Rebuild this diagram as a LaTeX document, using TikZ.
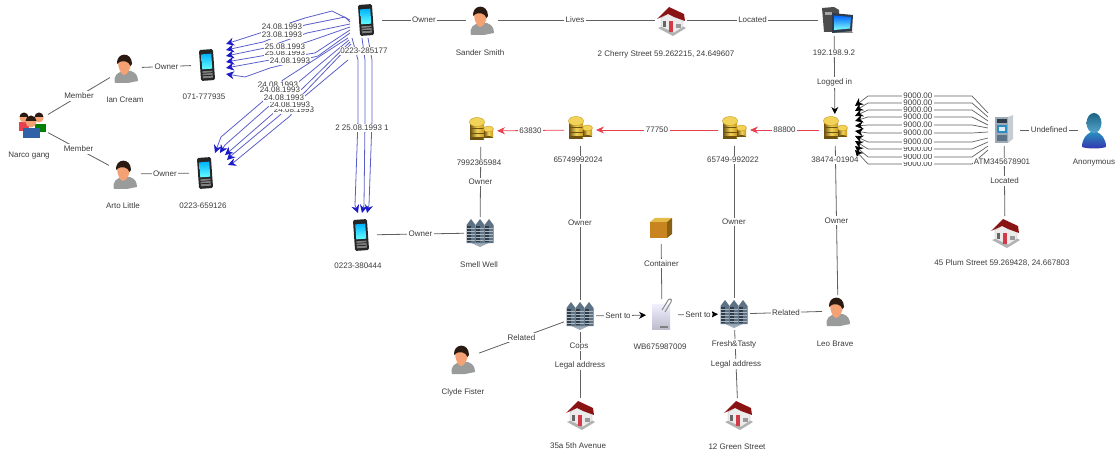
\documentclass[tikz,border=0pt]{standalone}
\usepackage{fontspec}
\setmainfont{Liberation Sans}
\usetikzlibrary{arrows.meta,calc,shapes.geometric}
\definecolor{linegray}{HTML}{606060}
\definecolor{txt}{HTML}{3C3C3C}
\definecolor{edgeblue}{HTML}{5A5FC8}
\definecolor{tipblue}{HTML}{1A1AC8}
\definecolor{edgered}{HTML}{E8404F}
\definecolor{gold}{HTML}{C99A1E}
\definecolor{golddark}{HTML}{6E5210}
\definecolor{goldlight}{HTML}{F2D35A}
\definecolor{slate}{HTML}{5D7285}
\definecolor{slatedark}{HTML}{2F3D4A}
\definecolor{roof}{HTML}{8A1414}
\definecolor{skin}{HTML}{F4A274}
\definecolor{hair}{HTML}{2A1A12}
\definecolor{shirt}{HTML}{9A9C9C}
\definecolor{crateorange}{HTML}{C8841E}
\definecolor{teal}{HTML}{2A8FC0}
\tikzset{
  iconbox/.style={inner sep=0pt,minimum width=#1,minimum height=#1,outer sep=0pt},
  iconbox/.default=32,
  lab/.style={font=\fontsize{8}{9}\selectfont,text=txt,fill=white,inner sep=0.8pt},
  edgelab/.style={font=\fontsize{8}{9}\selectfont,text=txt,fill=white,inner sep=1.6pt},
  graylink/.style={draw=linegray,line width=0.8pt},
  bluelink/.style={draw=edgeblue,line width=0.8pt,-{Stealth[length=8pt,width=8pt,color=tipblue]}},
  redlink/.style={draw=edgered,line width=0.8pt,-{Stealth[length=8pt,width=7pt]}},
  blacktip/.style={graylink,-{Stealth[length=7pt,width=7pt,color=black]}},
  atmlink/.style={draw=linegray,line width=0.7pt,-{Stealth[length=8pt,width=8pt,color=black]}},
  person/.pic={
    \fill[shirt] (-11,15) .. controls (-13,7) and (-8,4) .. (-2,3) -- (5,3) .. controls (10,5) and (12,8) .. (12,13) -- (2,15) -- cycle;
    \fill[skin] (-8,-6) .. controls (-8,-11) and (5,-11) .. (5,-5) .. controls (5,1) and (1,7) .. (-2,7) .. controls (-5,7) and (-8,0) .. (-8,-6) -- cycle;
    \fill[hair] (-9,-4) .. controls (-10,-16) and (6,-17) .. (6,-4) -- (4.5,-2) .. controls (3,-7) and (-4,-9) .. (-9,-4) -- cycle;
  },
  phone/.pic={
    \begin{scope}[rotate=4]
      \fill[black!85,rounded corners=1.5pt] (-7,-15.5) rectangle (7,15.5);
      \shade[top color=cyan!70!blue,bottom color=cyan!60!white] (-5,-11) rectangle (5,4);
      \fill[gray] (-5,6) rectangle (5,13);
      \foreach \yy in {8,10.5}{\draw[black,line width=0.5pt] (-5,\yy) -- (5,\yy);}
    \end{scope}
  },
  house/.pic={
    \fill[black!30] (-13,8) -- (2,16) -- (15,8) -- (3,2) -- cycle;
    \fill[white!92!black,draw=black!35,line width=0.4pt] (-10,-2) -- (-10,7) -- (3,13) -- (12,7) -- (12,-1) -- (1,-9) -- cycle;
    \fill[roof] (-14,-1) -- (-2,-13) -- (13,-6) -- (14,1) -- (3,-3) -- (-3,-6) -- cycle;
    \fill[edgered!90!black] (-2,1) rectangle (2,12);
    \fill[black!60] (-8,1) rectangle (-5,7);
    \fill[black!40] (5,4) rectangle (10,8);
  },
  coins/.pic={
    \shade[left color=golddark,right color=gold,middle color=goldlight] (-11,-8) rectangle (3,9);
    \fill[golddark] (-11,9) arc[start angle=180,end angle=360,x radius=7,y radius=3] -- cycle;
    \foreach \yy in {-3,2,6}{\draw[golddark,line width=0.5pt] (-11,\yy) -- (3,\yy);}
    \fill[goldlight,draw=gold,line width=0.4pt] (-4,-9) ellipse[x radius=7.5,y radius=4.5];
    \shade[left color=golddark,right color=gold,middle color=goldlight] (3,-2) rectangle (12,7);
    \fill[golddark] (3,7) arc[start angle=180,end angle=360,x radius=4.5,y radius=2] -- cycle;
    \fill[goldlight,draw=gold,line width=0.4pt] (7.5,-2) ellipse[x radius=5,y radius=3];
  },
  building/.pic={
    \fill[slate!60!white] (-13,-6) -- (0,-4) -- (13,-7) -- (13,8) -- (0,14) -- (-13,8) -- cycle;
    \foreach \xx in {-9,0,9}{
      \fill[slate] (\xx-4.5,-8) -- (\xx,-14) -- (\xx+4.5,-8) -- (\xx+4.5,10) -- (\xx-4.5,10) -- cycle;
      \fill[slatedark] (\xx-4,-7) rectangle (\xx-0.5,9);
      \foreach \yy in {-5,-2,1,4,7}{\draw[slate!50!white,line width=0.3pt] (\xx-4,\yy) -- (\xx+4,\yy);}
    }
  },
  computer/.pic={
    \fill[black!70] (-12,-12) -- (0,-13) -- (5,-10) -- (5,12) -- (-10,12) -- cycle;
    \fill[black!35] (-9,-8) rectangle (-2,-5);
    \fill[black!45] (-1,10) -- (17,10) -- (19,13) -- (0,13) -- cycle;
    \fill[slatedark] (-2,-7) -- (19,-5) -- (18,11) -- (-2,13) -- cycle;
    \shade[top color=blue!60!cyan,bottom color=cyan!50!white] (0,-4.5) -- (17,-3) -- (16,8.5) -- (0,10) -- cycle;
  },
  atm/.pic={
    \fill[slate!60!white] (-9,-13) -- (4,-13) -- (4,13) -- (-9,13) -- cycle;
    \fill[slate!35!white] (4,-13) -- (9,-15) -- (9,9) -- (4,13) -- cycle;
    \fill[slatedark] (-7,-11) rectangle (3,-7);
    \fill[teal] (-7,-5) rectangle (3,3);
    \fill[white!85!teal] (-5,-3) rectangle (1,1);
    \fill[slate] (-7,5) rectangle (3,11);
  },
  anon/.pic={
    \shade[top color=teal,bottom color=blue!60!black!80] (-12,17) .. controls (-12,8) and (-7,4) .. (-3,2) -- (3,2) .. controls (7,4) and (12,8) .. (12,17) .. controls (6,19) and (-6,19) .. (-12,17) -- cycle;
    \shade[top color=teal!70!black,bottom color=teal!80!white] (0,-7) ellipse[x radius=7.5,y radius=10];
  },
  paper/.pic={
    \shade[top color=blue!6!white,bottom color=blue!15!gray!45] (-10,-11) -- (8,-11) -- (8,14) -- (-10,14) -- cycle;
    \draw[black!45,line width=1pt] (3,-3) -- (9,-13) .. controls (11,-17) and (6,-17) .. (5,-13) -- (0,-5);
    \fill[black!50] (-2,11) rectangle (6,13);
  },
  cratebox/.pic={
    \fill[crateorange] (-11,-6) -- (6,-6) -- (6,10) -- (-11,10) -- cycle;
    \fill[goldlight!70!crateorange] (-11,-6) -- (-6,-10) -- (11,-10) -- (6,-6) -- cycle;
    \fill[golddark!70!crateorange] (6,-6) -- (11,-10) -- (11,6) -- (6,10) -- cycle;
  },
  gang/.pic={
    \fill[green!50!black] (3,0) rectangle (14,8);
    \fill[edgered] (-13,-2) rectangle (-3,7);
    \fill[skin] (7,-6) circle[radius=4.5];
    \fill[hair] (2.5,-7) arc[start angle=180,end angle=360,radius=4.5] -- cycle;
    \fill[skin] (-8,-6) circle[radius=4.5];
    \fill[hair] (-12.5,-7) arc[start angle=180,end angle=360,radius=4.5] -- cycle;
    \fill[cyan!40!blue!85!black] (-9,4) rectangle (8,14);
    \fill[skin] (-1,-2) circle[radius=5.5];
    \fill[hair] (-6.5,-3) arc[start angle=180,end angle=360,radius=5.5] -- cycle;
  }
}
\begin{document}
\begin{tikzpicture}[x=1pt,y=-1pt]
\useasboundingbox (0,0) rectangle (1116,457);
% invisible anchors for the icons
\node[iconbox] (narco) at (32,124) {};
\node[iconbox] (ian) at (126,68) {};
\node[iconbox] (arto) at (125,174) {};
\node[iconbox] (pa) at (207,65) {};
\node[iconbox] (pb) at (205,173) {};
\node[iconbox] (pc) at (366,20) {};
\node[iconbox] (pd) at (361,235) {};
\node[iconbox] (sander) at (482,20) {};
\node[iconbox] (cherry) at (671,20) {};
\node[iconbox] (comp) at (834,20) {};
\node[iconbox] (ca) at (835,130) {};
\node[iconbox] (cb) at (734,130) {};
\node[iconbox] (cc) at (580,130) {};
\node[iconbox] (cd) at (481,131) {};
\node[iconbox] (atm) at (1004,130) {};
\node[iconbox] (anon) at (1094,130) {};
\node[iconbox] (plum) at (1005,232) {};
\node[iconbox] (smell) at (480,233) {};
\node[iconbox] (cops) at (580,316) {};
\node[iconbox] (doc) at (662,315) {};
\node[iconbox] (fresh) at (734,314) {};
\node[iconbox] (leo) at (838,311) {};
\node[iconbox] (clyde) at (463,359) {};
\node[iconbox] (addra) at (580,414) {};
\node[iconbox] (addrb) at (738,414) {};
\node[iconbox] (crate) at (661,228) {};
% plain links
\draw[graylink] (narco) -- node[edgelab]{Member} (ian);
\draw[graylink] (narco) -- node[edgelab]{Member} (arto);
\draw[graylink] (ian) -- node[edgelab]{Owner} (pa);
\draw[graylink] (arto) -- node[edgelab]{Owner} (pb);
\draw[graylink] (pc) -- node[edgelab]{Owner} (sander);
\draw[graylink] (sander) -- node[edgelab,pos=0.49]{Lives} (cherry);
\draw[graylink] (cherry) -- node[edgelab]{Located} (comp);
\draw[blacktip] (comp) -- node[edgelab,pos=0.6]{Logged in} (ca);
\draw[redlink] (ca) -- node[edgelab]{88800} (cb);
\draw[redlink] (cb) -- node[edgelab]{77750} (cc);
\draw[redlink] (cc) -- node[edgelab]{63830} (cd);
\draw[graylink] (cd) -- node[edgelab]{Owner} (smell);
\draw[graylink] (cc) -- node[edgelab]{Owner} (cops);
\draw[graylink] (cb) -- node[edgelab]{Owner} (fresh);
\draw[graylink] (ca) -- node[edgelab]{Owner} (leo);
\draw[graylink] (smell) -- node[edgelab]{Owner} (pd);
\draw[graylink] (crate) -- node[edgelab,pos=0.36]{Container} (doc);
\draw[blacktip] (cops) -- node[edgelab,pos=0.44]{Sent to} (doc);
\draw[blacktip] (doc) -- node[edgelab]{Sent to} (fresh);
\draw[graylink] (fresh) -- node[edgelab]{Related} (leo);
\draw[graylink] (cops) -- node[edgelab]{Related} (clyde);
\draw[graylink] (cops) -- node[edgelab]{Legal address} (addra);
\draw[graylink] (fresh) -- node[edgelab]{Legal address} (addrb);
\draw[graylink] (atm) -- node[edgelab]{Undefined} (anon);
\draw[graylink] (atm) -- node[edgelab]{Located} (plum);
% calls pc -> pa
\draw[bluelink] (pc.west) -- (332,11) -- (305,18) -- (260,33) -- ($(pa.east)+(3,-21)$);
\draw[bluelink] ($(pc.west)+(0,2)$) -- (345,17) -- (305,25) -- (263,42) -- ($(pa.east)+(3,-15)$);
\draw[bluelink] ($(pc.west)+(0,4)$) -- (307,33) -- (265,48) -- ($(pa.east)+(3,-9)$);
\draw[bluelink] ($(pc.west)+(0,7)$) -- (310,41) -- (267,55) -- ($(pa.east)+(3,-3)$);
\draw[bluelink] ($(pc.west)+(0,10)$) -- (315,53) -- (270,60) -- ($(pa.east)+(3,3)$);
\draw[bluelink] ($(pc.west)+(0,13)$) -- (318,56) -- (270,68) -- (245,77) -- ($(pa.east)+(3,9)$);
\node[edgelab,inner sep=1pt] (ta) at (282,35) {23.08.1993};
\node[edgelab,inner sep=1pt] (tb) at (282,27) {24.08.1993};
\node[edgelab,inner sep=1pt] (tc) at (285,53) {25.08.1993};
\node[edgelab,inner sep=1pt] (td) at (285,47) {25.08.1993};
\node[edgelab,inner sep=1pt] (te) at (290,61) {24.08.1993};
% calls pc -> pb
\draw[bluelink] ($(pc.west)+(-2,18)$) -- (283,80) -- (262,102) -- (221,137) -- ($(pb.east)+(-6,-20)$);
\draw[bluelink] ($(pc.west)+(-1,20)$) -- (295,85) -- (268,107) -- (225,145) -- ($(pb.east)+(-1,-20)$);
\draw[bluelink] ($(pc.west)+(0,22)$) -- (303,88) -- (277,110) -- (231,150) -- ($(pb.east)+(4,-18)$);
\draw[bluelink] ($(pc.west)+(1,24)$) -- (305,92) -- (280,115) -- (232,155) -- ($(pb.east)+(6,-13)$);
\draw[bluelink] ($(pc.west)+(-2,40)$) -- (305,96) -- (290,116) -- (233,163) -- ($(pb.east)+(7,-8)$);
\node[edgelab,inner sep=1pt] (tf) at (278,85) {24.08.1993};
\node[edgelab,inner sep=1pt] (tg) at (280,90) {24.08.1993};
\node[edgelab,inner sep=1pt] (th) at (294,110) {24.08.1993};
\node[edgelab,inner sep=1pt] (ti) at (290,105) {24.08.1993};
\node[edgelab,inner sep=1pt] (tj) at (284,98) {24.08.1993};
% calls pc -> pd
\draw[bluelink] ($(pc.south)+(-14,2)$) -- (358,60) -- (358,120) -- (355,205) -- ($(pd.north)+(-3,-6)$);
\draw[bluelink] ($(pc.south)+(-4,2)$) -- (365,60) -- (365,120) -- (364,205) -- ($(pd.north)+(1,-6)$);
\draw[bluelink] ($(pc.south)+(2,2)$) -- (372,60) -- (372,120) -- (369,205) -- ($(pd.north)+(6,-6)$);
\node[edgelab] (callsd) at (362,128) {2 25.08.1993 1};
% withdrawals atm -> ca
\foreach \row/\tipy/\aty in {96/106/113,103/111/117,110/116/121,117/121/125,125/126/128,164/150/150,157/146/146,149/141/142,142/136/138,133/131/132}{
  \draw[atmlink] (atm.west |- 0,\aty) -- (972,\row) -- node[edgelab,inner xsep=1.5pt,inner ysep=2pt,pos=0.52]{9000.00} (868,\row) -- (855,\tipy);
}
% icons
\pic at (narco) {gang};
\pic at (ian) {person};
\pic at (arto) {person};
\pic at (clyde) {person};
\pic at (leo) {person};
\pic at (pa) {phone};
\pic at (pb) {phone};
\pic at (pc) {phone};
\pic at (pd) {phone};
\pic at (sander) {person};
\pic at (cherry) {house};
\pic at (comp) {computer};
\pic at (ca) {coins};
\pic at (cb) {coins};
\pic at (cc) {coins};
\pic at (cd) {coins};
\pic at (atm) {atm};
\pic at (anon) {anon};
\pic at (plum) {house};
\pic at (smell) {building};
\pic at (cops) {building};
\pic at (doc) {paper};
\pic at (fresh) {building};
\pic at (addra) {house};
\pic at (addrb) {house};
\pic at (crate) {cratebox};
% labels
\node[lab] (l1) at (29,156) {Narco gang};
\node[lab] (l2) at (125,100) {Ian Cream};
\node[lab] (l3) at (123,206) {Arto Little};
\node[lab] (l4) at (204,97) {071-777935};
\node[lab] (l5) at (203,206) {0223-659126};
\node[lab] (l6) at (364,51) {0223-285177};
\node[lab] (l7) at (358,266) {0223-380444};
\node[lab] (l8) at (480,53) {Sander Smith};
\node[lab] (l9) at (666,54) {2 Cherry Street  59.262215, 24.649607};
\node[lab] (l10) at (834,53) {192.198.9.2};
\node[lab] (l11) at (835,160) {38474-01904};
\node[lab] (l12) at (733,160) {65749-992022};
\node[lab] (l13) at (578,160) {65749992024};
\node[lab] (l14) at (479,163) {7992365984};
\node[lab] (l15) at (1002,162) {ATM345678901};
\node[lab] (l16) at (1094,163) {Anonymous};
\node[lab] (l17) at (1002,263) {45 Plum Street  59.269428, 24.667803};
\node[lab] (l18) at (479,265) {Smell Well};
\node[lab] (l19) at (579,347) {Cops};
\node[lab] (l20) at (660,347) {WB675987009};
\node[lab] (l21) at (734,344) {Fresh\&Tasty};
\node[lab] (l22) at (835,344) {Leo Brave};
\node[lab] (l23) at (463,392) {Clyde Fister};
\node[lab] (l24) at (578,446) {35a 5th Avenue};
\node[lab] (l25) at (737,447) {12 Green Street};
\end{tikzpicture}
\end{document}
